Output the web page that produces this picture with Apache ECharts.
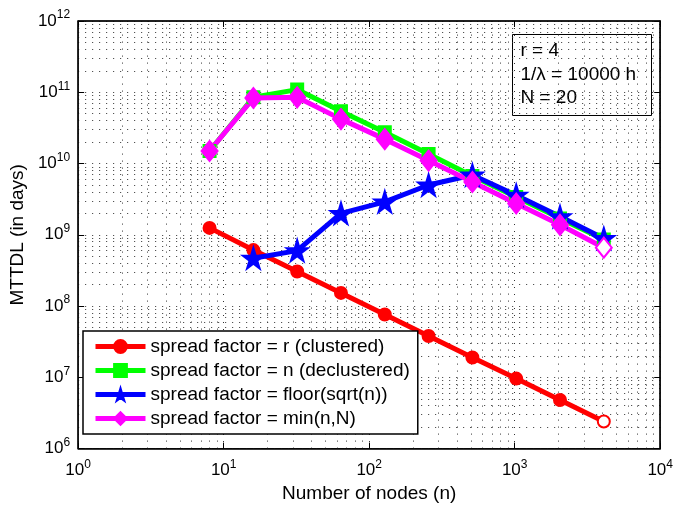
<!DOCTYPE html>
<html>
<head>
<meta charset="utf-8">
<script src="https://cdn.jsdelivr.net/npm/echarts@6/dist/echarts.min.js"></script>
<style>
  html, body { margin: 0; padding: 0; background: #fff; }
  #chart { width: 676px; height: 508px; }
</style>
</head>
<body>
<div id="chart"></div>
<script>
// number of nodes (x)
var nodes = [8, 16, 32, 64, 128, 256, 512, 1024, 2048, 4096];
// MTTDL values (in days)
var clustered   = [1.25e9, 6.1e8, 3.05e8, 1.53e8, 7.6e7, 3.8e7, 1.9e7, 9.6e6, 4.8e6, 2.4e6];
var declustered = [1.5e10, 8.5e10, 1.09e11, 5.4e10, 2.75e10, 1.36e10, 6.7e9, 3.4e9, 1.7e9, 8.6e8];
var sqrtSpread  = [null, 4.7e8, 6.0e8, 2.0e9, 2.9e9, 5.0e9, 6.9e9, 3.6e9, 1.8e9, 8.9e8];
var minSpread   = [1.5e10, 8.3e10, 8.5e10, 4.2e10, 2.2e10, 1.1e10, 5.5e9, 2.75e9, 1.38e9, 6.6e8];

var seriesNames = [
  'spread factor = r (clustered)',
  'spread factor = n (declustered)',
  'spread factor = floor(sqrt(n))',
  'spread factor = min(n,N)'
];
var infoLines = ['r = 4', '1/\u03bb = 10000 h', 'N = 20'];

// minor grid positions for the log axes
var xMinor = [];
var yMinor = [];
for (var k = 0; k < 4; k++) for (var m = 2; m < 10; m++) xMinor.push(m * Math.pow(10, k));
for (var k2 = 6; k2 < 12; k2++) for (var m2 = 2; m2 < 10; m2++) yMinor.push(m2 * Math.pow(10, k2));

var STAR = 'path://M50,0 L61,35 L98,35 L68,57 L79,91 L50,70 L21,91 L32,57 L2,35 L39,35 Z';
var FONT = '"Liberation Sans", Arial, sans-serif';

function pairs(vals, hollowLast) {
  var out = [];
  for (var i = 0; i < nodes.length; i++) {
    if (vals[i] == null) continue;
    if (hollowLast && i === nodes.length - 1) {
      out.push({ value: [nodes[i], vals[i]], itemStyle: { color: '#fff' } });
    } else {
      out.push([nodes[i], vals[i]]);
    }
  }
  return out;
}

function powLabel(v) {
  var e = Math.round(Math.log(v) / Math.LN10);
  return '{b|10}{s|' + e + '}';
}

var gridDots = { type: [1, 6], color: '#333', width: 1 };
var labelRich = {
  b: { fontSize: 17, fontFamily: FONT, color: '#000' },
  s: { fontSize: 12, fontFamily: FONT, color: '#000', verticalAlign: 'bottom', padding: [0, 0, 12, 0] }
};

var minorLines = [];
xMinor.forEach(function (v) { minorLines.push({ xAxis: v }); });
yMinor.forEach(function (v) { minorLines.push({ yAxis: v }); });

function lineSeries(name, data, color, symbol, size, extra) {
  var s = {
    name: name,
    type: 'line',
    data: data,
    color: color,
    symbol: symbol,
    symbolSize: size,
    showAllSymbol: true,
    lineStyle: { width: 5, color: color },
    itemStyle: { color: color, borderColor: color, borderWidth: 2 },
    animation: false
  };
  if (extra) for (var key in extra) s[key] = extra[key];
  return s;
}

var chart = echarts.init(document.getElementById('chart'));
chart.setOption({
  backgroundColor: '#fff',
  textStyle: { fontFamily: FONT },
  grid: {
    left: 76, right: 14, top: 21, bottom: 56,
    show: true, borderColor: '#000', borderWidth: 1
  },
  xAxis: [{
    type: 'log', logBase: 10, min: 1, max: 10000, splitNumber: 4,
    name: 'Number of nodes (n)', nameLocation: 'middle', nameGap: 35,
    nameTextStyle: { fontSize: 19, fontFamily: FONT, color: '#000' },
    axisLine: { lineStyle: { color: '#000', width: 1.5 } },
    axisTick: { inside: true, length: 6, lineStyle: { color: '#000' } },
    axisLabel: { formatter: powLabel, rich: labelRich, margin: 10 },
    splitLine: { show: true, lineStyle: gridDots }
  }, {
    type: 'log', logBase: 10, min: 1, max: 10000, splitNumber: 4, position: 'top',
    axisLine: { lineStyle: { color: '#000', width: 1.5 } },
    axisTick: { inside: true, length: 6, lineStyle: { color: '#000' } },
    axisLabel: { show: false }, splitLine: { show: false }
  }],
  yAxis: [{
    type: 'log', logBase: 10, min: 1e6, max: 1e12, splitNumber: 6,
    name: 'MTTDL (in days)', nameLocation: 'middle', nameGap: 51,
    nameTextStyle: { fontSize: 19, fontFamily: FONT, color: '#000' },
    axisLine: { lineStyle: { color: '#000', width: 1.5 } },
    axisTick: { inside: true, length: 6, lineStyle: { color: '#000' } },
    axisLabel: { formatter: powLabel, rich: labelRich, margin: 8 },
    splitLine: { show: true, lineStyle: gridDots }
  }, {
    type: 'log', logBase: 10, min: 1e6, max: 1e12, splitNumber: 6, position: 'right',
    axisLine: { lineStyle: { color: '#000', width: 1.5 } },
    axisTick: { inside: true, length: 6, lineStyle: { color: '#000' } },
    axisLabel: { show: false }, splitLine: { show: false }
  }],
  legend: {
    orient: 'vertical',
    left: 83, top: 331,
    padding: [6, 8, 6, 10],
    itemGap: 5,
    itemWidth: 50, itemHeight: 16,
    backgroundColor: '#fff',
    borderColor: '#000', borderWidth: 1.5,
    lineStyle: { width: 5 },
    textStyle: { fontSize: 19, fontFamily: FONT, color: '#000' },
    data: seriesNames
  },
  graphic: [{
    type: 'group', left: 512, top: 34,
    children: [{
      type: 'rect', shape: { x: 0, y: 0, width: 139, height: 81 },
      style: { fill: '#fff', stroke: '#000', lineWidth: 1 }
    }, {
      type: 'text', x: 8, y: 5,
      style: {
        text: infoLines.join('\n'), fontSize: 19, fontFamily: FONT,
        lineHeight: 23.5, fill: '#000'
      }
    }]
  }],
  series: [
    lineSeries(seriesNames[0], pairs(clustered, true), '#ff0000', 'circle', 12, {
      markLine: {
        silent: true, symbol: ['none', 'none'], animation: false,
        label: { show: false }, lineStyle: gridDots, z: 0,
        data: minorLines
      }
    }),
    lineSeries(seriesNames[1], pairs(declustered, false), '#00ff00', 'rect', 12),
    lineSeries(seriesNames[2], pairs(sqrtSpread, false), '#0000ff', STAR, 21),
    lineSeries(seriesNames[3], pairs(minSpread, true), '#ff00ff', 'diamond', [16, 20])
  ]
});
</script>
</body>
</html>
